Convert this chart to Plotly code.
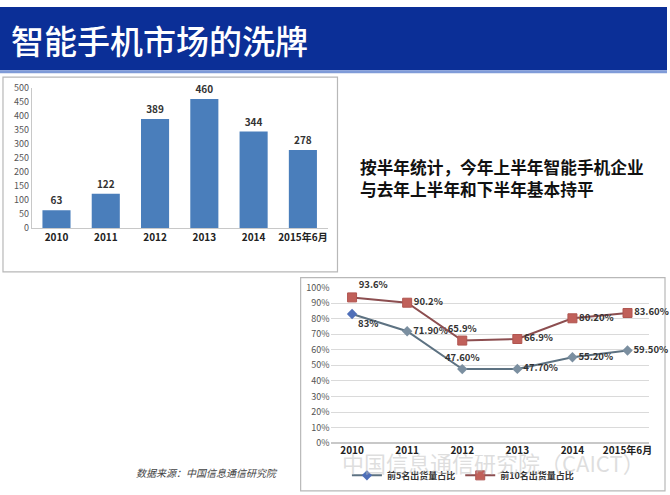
import plotly.graph_objects as go

W, H = 670, 495

years = ["2010", "2011", "2012", "2013", "2014", "2015年6月"]
companies = [63, 122, 389, 460, 344, 278]
top5_share = [83, 71.9, 47.6, 47.7, 55.2, 59.5]
top5_text = ["83%", "71.90%", "47.60%", "47.70%", "55.20%", "59.50%"]
top10_share = [93.6, 90.2, 65.9, 66.9, 80.2, 83.6]
top10_text = ["93.6%", "90.2%", "65.9%", "66.9%", "80.20%", "83.60%"]
bar_ticks = [0, 50, 100, 150, 200, 250, 300, 350, 400, 450, 500]
pct_ticks = [0, 10, 20, 30, 40, 50, 60, 70, 80, 90, 100]
pct_labels = ["0%", "10%", "20%", "30%", "40%", "50%", "60%", "70%", "80%", "90%", "100%"]

CJK = "Noto Sans CJK SC"


def px(x):
    return x / W


def py(y):
    return 1 - y / H


fig = go.Figure()

fig.add_trace(go.Bar(
    x=years, y=companies, text=[str(v) for v in companies],
    textposition="outside", cliponaxis=False,
    textfont=dict(family=CJK, size=10, color="#333333", weight="bold"),
    marker=dict(color="#4a7ebb", line=dict(width=0)),
    name="智能手机企业数目（个）", xaxis="x", yaxis="y", legend="legend",
))

fig.add_trace(go.Scatter(
    x=years, y=top5_share, text=top5_text, mode="lines+markers+text",
    textposition=["bottom right", "middle right", "top center", "middle right", "middle right", "middle right"],
    textfont=dict(family=CJK, size=9.5, color="#333333", weight="bold"),
    line=dict(color="#5d7282", width=2),
    marker=dict(symbol="diamond", size=8, color=["#4f6fb8", "#7b8fa0", "#7b8fa0", "#7b8fa0", "#7b8fa0", "#7b8fa0"]),
    name="前5名出货量占比", xaxis="x2", yaxis="y2", legend="legend2", cliponaxis=False,
))

fig.add_trace(go.Scatter(
    x=years, y=top10_share, text=top10_text, mode="lines+markers+text",
    textposition=["top right", "middle right", "top center", "middle right", "middle right", "middle right"],
    textfont=dict(family=CJK, size=9.5, color="#333333", weight="bold"),
    line=dict(color="#8c4e50", width=2),
    marker=dict(symbol="square", size=9, color="#c0605a", line=dict(color="#b05550", width=1)),
    name="前10名出货量占比", xaxis="x2", yaxis="y2", legend="legend2", cliponaxis=False,
))

shapes = [
    dict(type="rect", xref="paper", yref="paper", x0=0, x1=1, y0=py(65), y1=1,
         fillcolor="#0b2f97", line=dict(width=0), layer="below"),
    dict(type="rect", xref="paper", yref="paper", x0=0, x1=1, y0=py(68), y1=py(65),
         fillcolor="#7f9bd8", line=dict(width=0), layer="below"),
    dict(type="rect", xref="paper", yref="paper", x0=px(3), x1=px(339), y0=py(272), y1=py(72),
         fillcolor="#ffffff", line=dict(color="#b8b8b8", width=1.2), layer="below"),
    dict(type="rect", xref="paper", yref="paper", x0=px(302), x1=px(668), y0=py(497), y1=py(278),
         fillcolor="#ffffff", line=dict(color="#b8b8b8", width=1.2), layer="below"),
]

annotations = [
    dict(text="智能手机市场的洗牌", x=px(9), y=py(34), xref="paper", yref="paper",
         xanchor="left", yanchor="middle", showarrow=False,
         font=dict(family=CJK, size=33, color="#ffffff", weight=500)),
    dict(text="按半年统计，今年上半年智能手机企业<br>与去年上半年和下半年基本持平", x=px(360), y=py(176),
         xref="paper", yref="paper", xanchor="left", yanchor="middle", align="left", showarrow=False,
         font=dict(family=CJK, size=16.7, color="#111111", weight="bold")),
    dict(text="<i>数据来源：中国信息通信研究院</i>", x=px(135), y=py(478), xref="paper", yref="paper",
         xanchor="left", yanchor="middle", showarrow=False,
         font=dict(family=CJK, size=10, color="#444444")),
    dict(text="中国信息通信研究院（CAICT）", x=px(342), y=py(467), xref="paper", yref="paper",
         xanchor="left", yanchor="middle", showarrow=False,
         font=dict(family=CJK, size=22, color="rgba(190,190,190,0.5)")),
]

fig.update_layout(
    width=W, height=H, margin=dict(l=0, r=0, t=0, b=0),
    paper_bgcolor="#ffffff", plot_bgcolor="rgba(0,0,0,0)",
    shapes=shapes, annotations=annotations, bargap=0.43,
    xaxis=dict(domain=[px(32), px(329)], anchor="y", showgrid=False, showline=True,
               linecolor="#c8c8c8", ticks="", tickfont=dict(family=CJK, size=10, color="#222222", weight="bold")),
    yaxis=dict(domain=[py(227), py(83)], anchor="x", range=[0, 500], tickvals=bar_ticks,
               showgrid=False, showline=True, linecolor="#c8c8c8", ticks="", zeroline=False,
               tickfont=dict(family=CJK, size=9, color="#555555")),
    xaxis2=dict(domain=[px(332), px(652)], anchor="y2", showgrid=False, showline=False, ticks="",
                tickfont=dict(family=CJK, size=10, color="#222222", weight="bold")),
    yaxis2=dict(domain=[py(448), py(288)], anchor="x2", range=[0, 100], tickvals=pct_ticks,
                ticktext=pct_labels, tickmode="array",
                showgrid=True, gridcolor="#dadada", showline=False, zeroline=True,
                zerolinecolor="#c8c8c8", ticks="", tickfont=dict(family=CJK, size=9, color="#555555")),
    legend=dict(orientation="h", x=px(175), y=py(259), xanchor="center", yanchor="middle",
                bgcolor="rgba(0,0,0,0)", font=dict(family=CJK, size=10, color="#333333", weight="bold")),
    legend2=dict(orientation="h", x=px(465), y=py(481), xanchor="center", yanchor="middle",
                 itemwidth=30, bgcolor="rgba(0,0,0,0)",
                 font=dict(family=CJK, size=9, color="#333333", weight="bold")),
)

fig.write_html("out.html", config={"displayModeBar": False},
               post_script="document.body.style.margin='0';document.body.style.overflow='hidden';")
